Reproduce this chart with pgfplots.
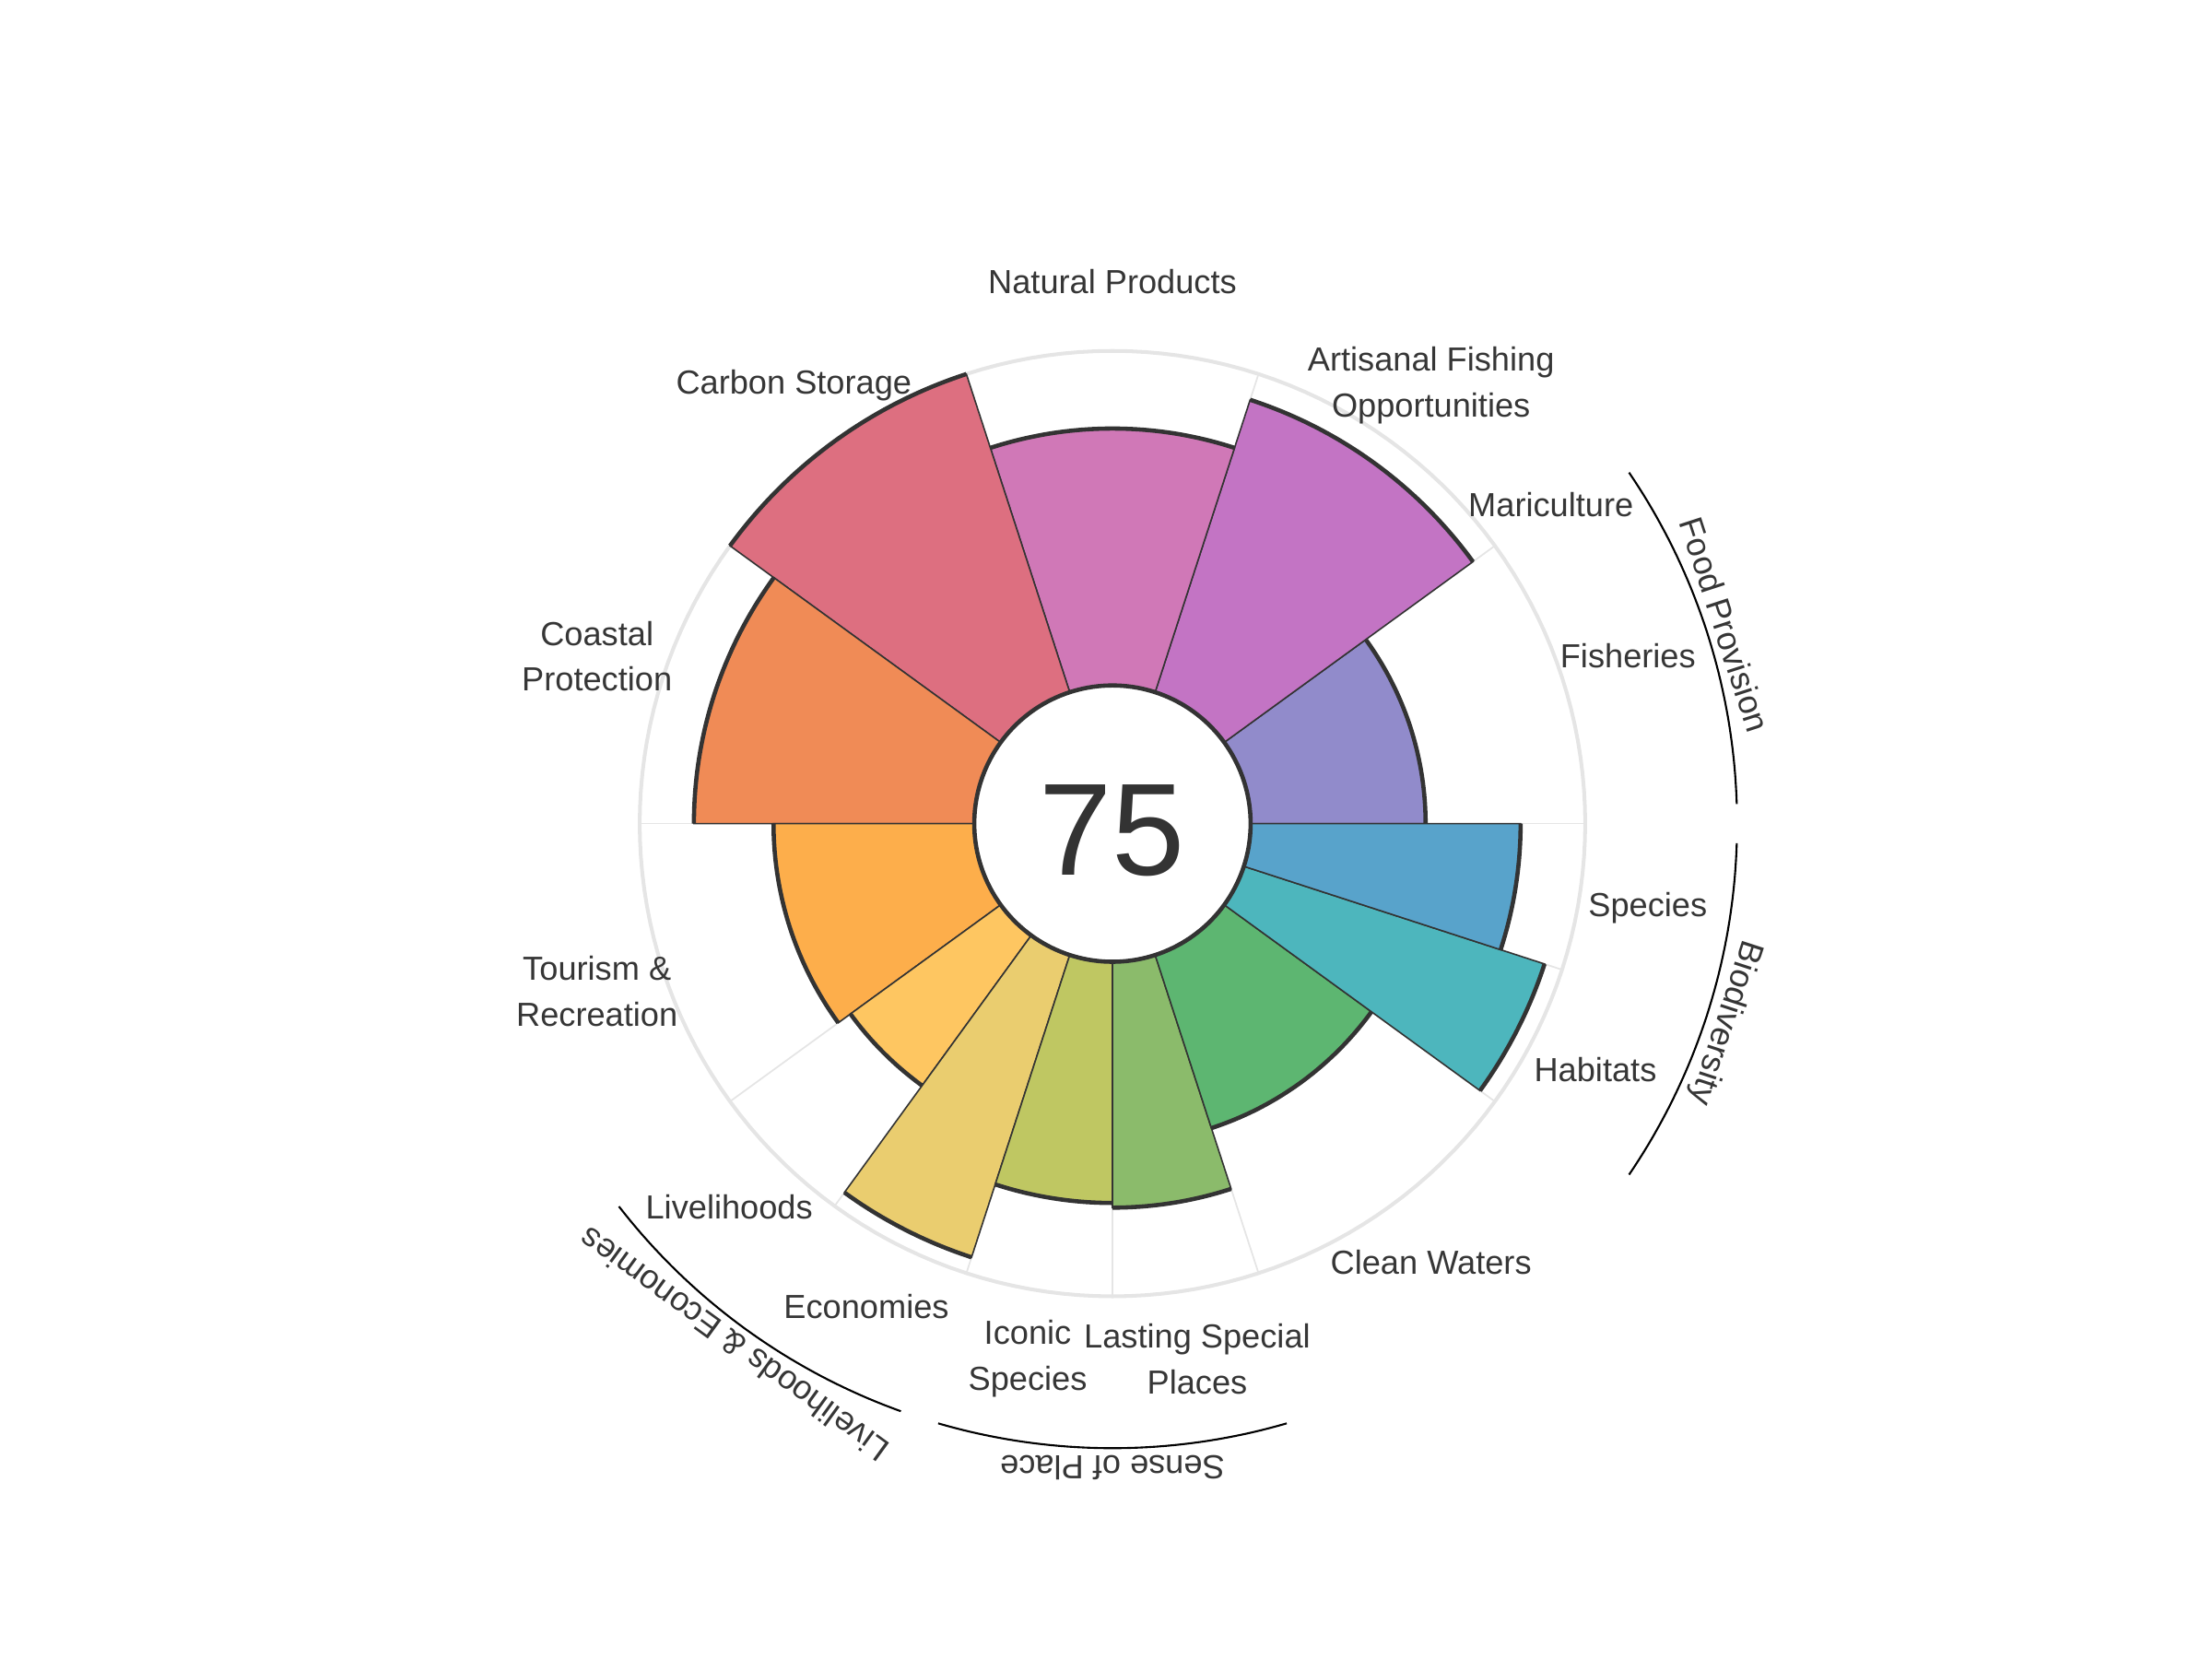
\documentclass[border=0pt]{standalone}
\usepackage{pgfplots}
\pgfplotsset{compat=1.18}
\usepackage{pgfplotstable}
\usepackage{fontspec}
\setmainfont{Liberation Sans}

\definecolor{cdark}{HTML}{333333}
\definecolor{gridc}{HTML}{E5E5E5}
\definecolor{txt}{HTML}{363636}
\definecolor{cFIS}{HTML}{918BCB}
\definecolor{cAO}{HTML}{C374C4}
\definecolor{cNP}{HTML}{D078B7}
\definecolor{cCS}{HTML}{DD6F80}
\definecolor{cCP}{HTML}{F08B56}
\definecolor{cTR}{HTML}{FDAE4B}
\definecolor{cLIV}{HTML}{FEC661}
\definecolor{cECO}{HTML}{EACD6F}
\definecolor{cICO}{HTML}{BFC762}
\definecolor{cLSP}{HTML}{8BBB6B}
\definecolor{cCW}{HTML}{5DB671}
\definecolor{cHAB}{HTML}{4DB6BD}
\definecolor{cSPP}{HTML}{58A3CB}

\tikzset{lab/.style={text=txt, align=center, font=\fontsize{10.3}{14.1}\selectfont}}

% goal scores: start angle, end angle, score (0-100), colour
\pgfplotstableread{
start end val col
0   36  52.3 cFIS
36  72  91.9 cAO
72  108 76.8 cNP
108 144 100  cCS
144 180 83.8 cCP
180 216 60.0 cTR
216 234 55.5 cLIV
234 252 95.0 cECO
252 270 72.1 cICO
270 288 73.5 cLSP
288 324 54.4 cCW
324 342 94.5 cHAB
342 360 80.7 cSPP
}\petals

\def\hole{41.3}
\def\outer{141.3}

\begin{document}
\begin{tikzpicture}
\begin{axis}[
  width=24cm, height=18cm, scale only axis, hide axis,
  xmin=-332.5, xmax=328.65, ymin=-249.7, ymax=246.2,
  clip=false,
]
\path (rel axis cs:0,0) rectangle (rel axis cs:1,1);
% grid
\addplot[gridc, line width=1.15pt, domain=0:360, samples=181, forget plot]
  ({\outer*cos(x)},{\outer*sin(x)});
\pgfplotsforeachungrouped \a in {0,36,72,108,144,180,216,234,252,270,288,324,342}{
  \edef\cmd{\noexpand\addplot[gridc, line width=0.5pt, data cs=polar, forget plot]
    coordinates {(\a,\hole) (\a,\outer)};}
  \cmd
}
% petals
\pgfplotstablegetrowsof{\petals}
\pgfmathtruncatemacro{\nrows}{\pgfplotsretval-1}
\pgfplotsforeachungrouped \i in {0,...,\nrows}{
  \pgfplotstablegetelem{\i}{start}\of\petals \let\ps\pgfplotsretval
  \pgfplotstablegetelem{\i}{end}\of\petals \let\pe\pgfplotsretval
  \pgfplotstablegetelem{\i}{val}\of\petals \let\pv\pgfplotsretval
  \pgfplotstablegetelem{\i}{col}\of\petals \let\pc\pgfplotsretval
  \pgfmathsetmacro{\pr}{\hole+\pv}
  \edef\cmd{\noexpand\addplot[fill=\pc, draw=cdark, line width=0.45pt, domain=\ps:\pe, samples=41, variable=\noexpand\t, forget plot]
    ({\pr*cos(\noexpand\t)},{\pr*sin(\noexpand\t)}) -- (0,0) -- cycle;}
  \cmd
}
% thick outer arcs
\pgfplotsforeachungrouped \i in {0,...,\nrows}{
  \pgfplotstablegetelem{\i}{start}\of\petals \let\ps\pgfplotsretval
  \pgfplotstablegetelem{\i}{end}\of\petals \let\pe\pgfplotsretval
  \pgfplotstablegetelem{\i}{val}\of\petals \let\pv\pgfplotsretval
  \pgfmathsetmacro{\pr}{\hole+\pv}
  \edef\cmd{\noexpand\addplot[cdark, line width=1.3pt, domain=\ps:\pe, samples=41, variable=\noexpand\t, forget plot]
    ({\pr*cos(\noexpand\t)},{\pr*sin(\noexpand\t)});}
  \cmd
}
% hole
\addplot[fill=white, draw=cdark, line width=1.3pt, domain=0:360, samples=181, forget plot]
  ({\hole*cos(x)},{\hole*sin(x)}) -- cycle;
\node[font=\fontsize{40.5}{40.5}\selectfont, text=cdark] at (axis cs:0,-2.2) {75};

% goal labels
\node[lab] at (axis cs:{162*cos(18)},{162*sin(18)}) {Fisheries};
\node[lab] at (axis cs:{162*cos(36)},{162*sin(36)}) {Mariculture};
\node[lab] at (axis cs:{162*cos(54)},{162*sin(54)}) {Artisanal Fishing\\Opportunities};
\node[lab] at (axis cs:{162*cos(90)},{162*sin(90)}) {Natural Products};
\node[lab] at (axis cs:{162*cos(126)},{162*sin(126)}) {Carbon Storage};
\node[lab] at (axis cs:{162*cos(162)},{162*sin(162)}) {Coastal\\Protection};
\node[lab] at (axis cs:{162*cos(198)},{162*sin(198)}) {Tourism \&\\Recreation};
\node[lab] at (axis cs:{162*cos(225)},{162*sin(225)}) {Livelihoods};
\node[lab] at (axis cs:{162*cos(243)},{162*sin(243)}) {Economies};
\node[lab] at (axis cs:{162*cos(261)},{162*sin(261)}) {Iconic\\Species};
\node[lab] at (axis cs:{162*cos(279)},{162*sin(279)}) {Lasting Special\\Places};
\node[lab] at (axis cs:{162*cos(306)},{162*sin(306)}) {Clean Waters};
\node[lab] at (axis cs:{162*cos(333)},{162*sin(333)}) {Habitats};
\node[lab] at (axis cs:{162*cos(351)},{162*sin(351)}) {Species};

% group arcs
\addplot[black, line width=0.6pt, domain=1.8:34.2, samples=41, forget plot] ({186.7*cos(x)},{186.7*sin(x)});
\addplot[black, line width=0.6pt, domain=325.8:358.2, samples=41, forget plot] ({186.7*cos(x)},{186.7*sin(x)});
\addplot[black, line width=0.6pt, domain=253.8:286.2, samples=41, forget plot] ({186.7*cos(x)},{186.7*sin(x)});
\addplot[black, line width=0.6pt, domain=217.8:250.2, samples=41, forget plot] ({186.7*cos(x)},{186.7*sin(x)});
% group labels
\node[lab, rotate=-72] at (axis cs:{192.5*cos(18)},{192.5*sin(18)}) {Food Provision};
\node[lab, rotate=-108] at (axis cs:{192.5*cos(342)},{192.5*sin(342)}) {Biodiversity};
\node[lab, rotate=180] at (axis cs:{192.5*cos(270)},{192.5*sin(270)}) {Sense of Place};
\node[lab, rotate=144] at (axis cs:{192.5*cos(234)},{192.5*sin(234)}) {Livelihoods \& Economies};
\end{axis}
\end{tikzpicture}
\end{document}
